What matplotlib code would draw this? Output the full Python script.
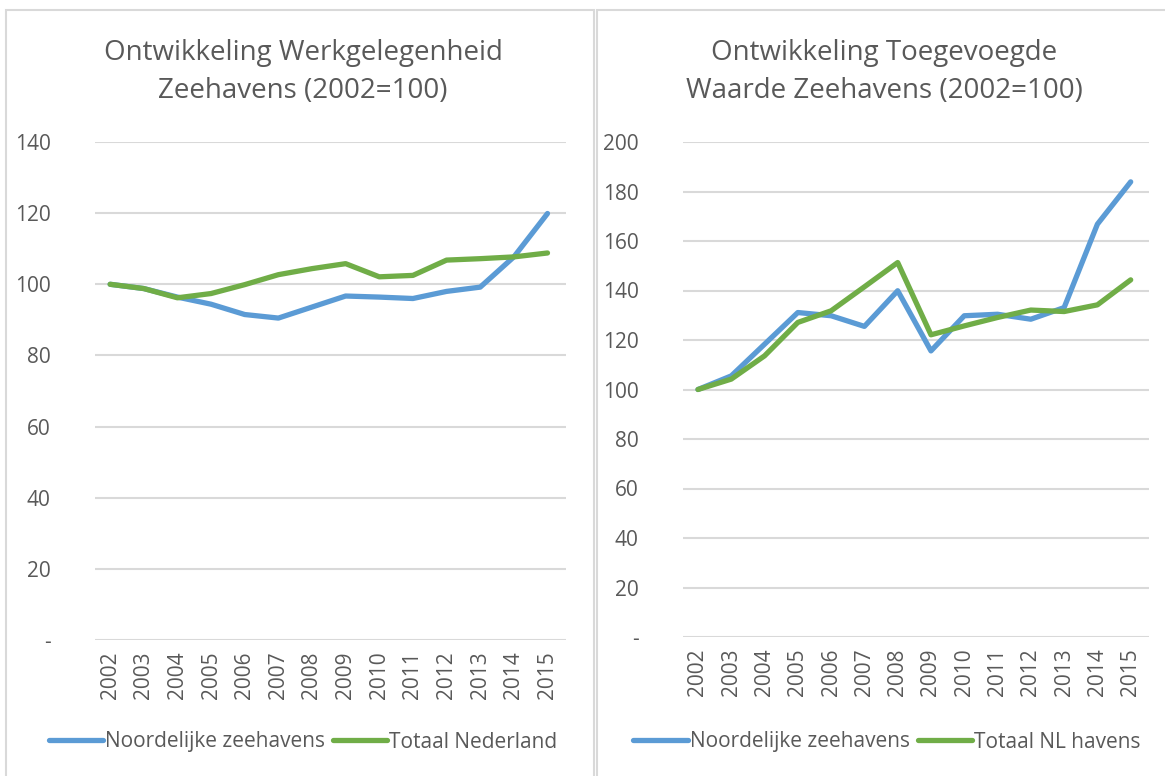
import matplotlib
matplotlib.use("Agg")
import matplotlib.pyplot as plt
from matplotlib.patches import Rectangle
from matplotlib.ticker import FuncFormatter, MultipleLocator

# ============== DATA ==============

years = [str(y) for y in range(2002, 2016)]

# Werkgelegenheid (2002=100)
werk_noord = [100, 98.8, 96.4, 94.4, 91.5, 90.5, 93.6, 96.7, 96.4, 96.0, 98.0, 99.2, 107.7, 119.9]
werk_totaal = [100, 98.8, 96.2, 97.4, 99.9, 102.7, 104.4, 105.8, 102.1, 102.5, 106.8, 107.2, 107.7, 108.8]

# Toegevoegde waarde (2002=100)
tw_noord = [100, 105.5, 118.3, 131.1, 129.8, 125.5, 139.9, 115.6, 129.8, 130.4, 128.4, 133.1, 166.8, 183.9]
tw_totaal = [100, 104.2, 113.6, 127.1, 131.8, 141.5, 151.3, 122.1, 125.7, 129.1, 132.1, 131.5, 134.2, 144.3]

titles = ["Ontwikkeling Werkgelegenheid\nZeehavens (2002=100)",
          "Ontwikkeling Toegevoegde\nWaarde Zeehavens (2002=100)"]
legend_left = ["Noordelijke zeehavens", "Totaal Nederland"]
legend_right = ["Noordelijke zeehavens", "Totaal NL havens"]

# ============== STYLE ==============

W, H = 1165, 776
BLUE = "#5B9BD5"
GREEN = "#70AD47"
GRID = "#D9D9D9"
TEXT = "#595959"
FONT = ["Open Sans", "DejaVu Sans"]
plt.rcParams["font.family"] = FONT


def px_rect(x0, y0, x1, y1):
    """Convert pixel box (top-left origin) to figure fractions"""
    return [x0 / W, 1 - y1 / H, (x1 - x0) / W, (y1 - y0) / H]


def draw_panel(fig, rect, noord, totaal, ymax, step, title, labels, title_x, legend_x):
    ax = fig.add_axes(rect)
    xs = range(len(years))
    l1, = ax.plot(xs, noord, color=BLUE, lw=3.8, solid_capstyle="round", solid_joinstyle="round")
    l2, = ax.plot(xs, totaal, color=GREEN, lw=3.8, solid_capstyle="round", solid_joinstyle="round")
    ax.set_xlim(-0.45, len(years) - 0.45)
    ax.set_ylim(0, ymax)
    ax.yaxis.set_major_locator(MultipleLocator(step))
    ax.yaxis.set_major_formatter(FuncFormatter(lambda v, p: "-" if v == 0 else f"{v:.0f}"))
    ax.set_xticks(list(xs))
    ax.set_xticklabels(years, rotation=90)
    ax.grid(axis="y", color=GRID, lw=1.5)
    ax.set_axisbelow(True)
    for s in ax.spines.values():
        s.set_visible(False)
    ax.tick_params(length=0, labelsize=15, colors=TEXT)
    ax.tick_params(axis="y", pad=32)
    ax.tick_params(axis="x", pad=8)
    fig.text(title_x / W, 1 - 72 / H, title, ha="center", va="center",
             fontsize=20, color=TEXT, linespacing=1.45)
    fig.legend([l1, l2], labels, loc="center", bbox_to_anchor=(legend_x / W, 1 - 742 / H),
               ncol=2, frameon=False, fontsize=15, labelcolor=TEXT, handlelength=2.6,
               handletextpad=0.1, columnspacing=0.4)
    return ax


fig = plt.figure(figsize=(W / 100, H / 100), dpi=100)

# panel borders
fig.patches.append(Rectangle((6 / W, -0.1), 588 / W, 1 - 10 / H + 0.1, transform=fig.transFigure,
                             fill=False, ec=GRID, lw=1.5))
fig.patches.append(Rectangle((597 / W, -0.1), 0.6, 1 - 10 / H + 0.1, transform=fig.transFigure,
                             fill=False, ec=GRID, lw=1.5))

draw_panel(fig, px_rect(95, 142, 566, 640), werk_noord, werk_totaal, 140, 20,
           titles[0], legend_left, 303, 303)
draw_panel(fig, px_rect(683, 142, 1149, 637), tw_noord, tw_totaal, 200, 20,
           titles[1], legend_right, 884, 887)

fig.savefig("out.png", dpi=100)
